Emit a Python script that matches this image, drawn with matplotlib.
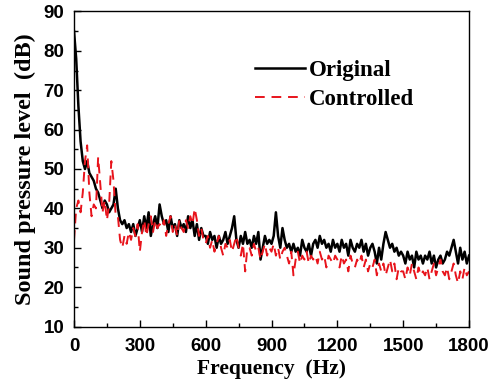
import numpy as np
import matplotlib
matplotlib.use("Agg")
import matplotlib.pyplot as plt
from matplotlib.ticker import MultipleLocator

# frecuencias (Hz), cada 10 Hz
freq = np.arange(0, 1801, 10)

# nivel de presion sonora original (dB)
original = [
    85, 78, 66, 57, 52, 50, 52, 49, 48, 47,
    45, 44, 42, 40, 42, 41, 39, 40, 41, 45,
    40, 37, 36, 37, 35, 36, 34, 36, 33, 35,
    37, 34, 38, 35, 39, 33, 36, 38, 35, 41,
    38, 36, 37, 34, 38, 35, 36, 33, 37, 35,
    36, 34, 38, 35, 37, 33, 36, 32, 35, 33,
    33, 31, 34, 32, 33, 30, 33, 31, 32, 34,
    31, 33, 35, 38, 32, 30, 33, 31, 34, 31,
    32, 30, 33, 31, 34, 27, 30, 33, 31, 32,
    31, 33, 39, 33, 30, 35, 32, 30, 31, 29,
    31, 29, 30, 28, 32, 30, 29, 31, 28, 31,
    32, 30, 33, 31, 32, 30, 31, 29, 32, 30,
    31, 29, 32, 30, 31, 28, 32, 30, 29, 31,
    30, 32, 29, 31, 28, 30, 31, 29, 26, 30,
    27, 31, 34, 32, 30, 31, 29, 30, 28, 29,
    28, 26, 29, 27, 28, 25, 29, 27, 28, 26,
    28, 27, 29, 26, 28, 25, 27, 28, 26, 27,
    29, 28, 30, 32, 29, 26, 30, 27, 29, 26, 28,
]

# nivel de presion sonora controlado (dB)
controlled = [
    32, 40, 42, 39, 44, 52, 56, 44, 38, 41,
    40, 53, 46, 39, 42, 37, 41, 52, 47, 38,
    38, 32, 30, 33, 31, 34, 32, 35, 33, 36,
    29, 34, 37, 33, 36, 38, 34, 37, 35, 36,
    35, 37, 33, 36, 38, 34, 36, 33, 37, 35,
    34, 37, 35, 38, 36, 40, 37, 33, 35, 32,
    31, 33, 30, 32, 29, 31, 33, 30, 28, 31,
    30, 32, 29, 31, 33, 30, 28, 31, 24, 30,
    30, 28, 31, 29, 30, 27, 29, 31, 28, 30,
    29, 31, 28, 30, 27, 29, 30, 28, 26, 29,
    23, 27, 29, 26, 28, 27, 29, 26, 28, 27,
    28, 26, 29, 27, 28, 25, 28, 27, 26, 28,
    27, 25, 28, 26, 27, 24, 28, 26, 25, 27,
    26, 28, 25, 27, 24, 26, 25, 27, 23, 26,
    24, 26, 23, 25, 27, 24, 26, 22, 25, 24,
    24, 22, 25, 23, 26, 24, 22, 25, 23, 24,
    23, 25, 22, 24, 26, 23, 25, 27, 24, 23,
    25, 22, 24, 26, 23, 21, 24, 22, 25, 23, 24,
]

serif = ["Liberation Serif", "DejaVu Serif"]
sans = ["Liberation Sans", "DejaVu Sans"]

fig = plt.figure(figsize=(4.99, 3.79), dpi=100)
ax = fig.add_axes([0.1483, 0.1385, 0.7916, 0.8312])

ax.plot(freq, original, color="black", lw=1.8, label="Original")
ax.plot(freq, controlled, color="#e8141c", lw=1.4, dashes=(5, 3.5), label="Controlled")

ax.set_xlim(0, 1800)
ax.set_ylim(10, 90)
ax.xaxis.set_major_locator(MultipleLocator(300))
ax.xaxis.set_minor_locator(MultipleLocator(150))
ax.yaxis.set_major_locator(MultipleLocator(10))
ax.yaxis.set_minor_locator(MultipleLocator(5))
ax.tick_params(which="both", direction="in", top=False, right=False, width=1)
ax.tick_params(which="major", length=5)
ax.tick_params(which="minor", length=3)
ax.tick_params(axis="x", pad=8)
ax.tick_params(axis="y", pad=7)
for lab in ax.get_xticklabels() + ax.get_yticklabels():
    lab.set_family(sans)
    lab.set_fontweight("bold")
    lab.set_fontsize(13.5)
for s in ax.spines.values():
    s.set_linewidth(1)

ax.set_xlabel("Frequency  (Hz)", family=serif, fontweight="bold", fontsize=15.5, labelpad=3)
ax.set_ylabel("Sound pressure level  (dB)", family=serif, fontweight="bold", fontsize=17.5, labelpad=5)

leg = ax.legend(loc="upper left", bbox_to_anchor=(0.458, 0.845), frameon=False,
                prop={"family": serif, "weight": "bold", "size": 16.5},
                handlelength=2.2, handletextpad=0.15, labelspacing=0.35,
                borderpad=0, borderaxespad=0)

fig.savefig("out.png", dpi=100)
